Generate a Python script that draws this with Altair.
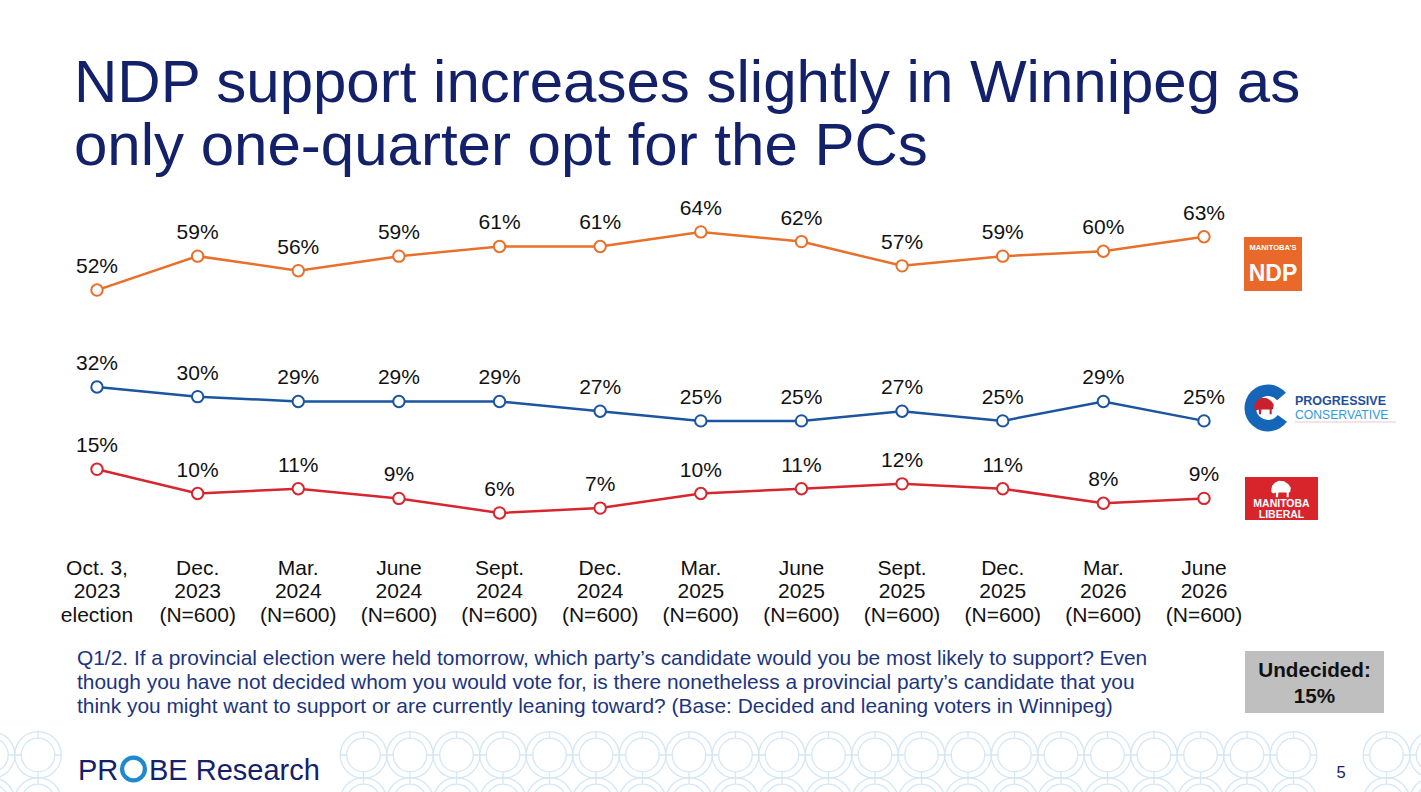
import altair as alt
import pandas as pd

# ---------------- data ----------------
periods = [
    "Oct. 3,\n2023\nelection", "Dec.\n2023\n(N=600)", "Mar.\n2024\n(N=600)",
    "June\n2024\n(N=600)", "Sept.\n2024\n(N=600)", "Dec.\n2024\n(N=600)",
    "Mar.\n2025\n(N=600)", "June\n2025\n(N=600)", "Sept.\n2025\n(N=600)",
    "Dec.\n2025\n(N=600)", "Mar.\n2026\n(N=600)", "June\n2026\n(N=600)",
]
ndp = [52, 59, 56, 59, 61, 61, 64, 62, 57, 59, 60, 63]
pc = [32, 30, 29, 29, 29, 27, 25, 25, 27, 25, 29, 25]
liberal = [15, 10, 11, 9, 6, 7, 10, 11, 12, 11, 8, 9]
parties = ["NDP", "PC", "Liberal"]
party_colors = ["#E8702A", "#1B55A0", "#D7262D"]
undecided = 15

title_lines = ["NDP support increases slightly in Winnipeg as",
               "only one-quarter opt for the PCs"]
note_lines = [
    "Q1/2. If a provincial election were held tomorrow, which party\u2019s candidate would you be most likely to support? Even",
    "though you have not decided whom you would vote for, is there nonetheless a provincial party\u2019s candidate that you",
    "think you might want to support or are currently leaning toward? (Base: Decided and leaning voters in Winnipeg)",
]

FONT = "Liberation Sans, Arial, Helvetica, sans-serif"
NAVY = "#13216A"
NOTE = "#1C3480"
DECO = "#D3E7F6"

rows = []
for party, vals in zip(parties, [ndp, pc, liberal]):
    for i, v in enumerate(vals):
        rows.append({"idx": i, "party": party, "value": v, "label": f"{v}%"})
df = pd.DataFrame(rows)
dper = pd.DataFrame({"idx": list(range(len(periods))), "period": periods})
one = pd.DataFrame({"a": [0]})

xs = alt.Scale(domain=[0, 11], range=[97, 1204], nice=False, zero=False)
ys = alt.Scale(domain=[0, 100], range=[542, 57.5], nice=False, zero=False)
X = alt.X("idx:Q", scale=xs, axis=None)
Y = alt.Y("value:Q", scale=ys, axis=None)
cscale = alt.Scale(domain=parties, range=party_colors)

lines = alt.Chart(df).mark_line(strokeWidth=2.5).encode(
    x=X, y=Y, color=alt.Color("party:N", scale=cscale, legend=None), detail="party:N")
points = alt.Chart(df).mark_point(shape="circle", filled=True, fill="white", size=130,
                                  strokeWidth=2, opacity=1).encode(
    x=X, y=Y, stroke=alt.Stroke("party:N", scale=cscale, legend=None))
vlabels = alt.Chart(df).mark_text(fontSize=21, font=FONT, dy=-23, baseline="middle",
                                  color="#111111").encode(x=X, y=Y, text="label:N")
xlabels = alt.Chart(dper).mark_text(fontSize=21, font=FONT, baseline="middle", lineBreak="\n",
                                    lineHeight=23.5, color="#111111").encode(
    x=X, y=alt.value(568.5), text="period:N")


def txt(s, x, y, size, color, align="left", weight="normal", baseline="alphabetic", font=FONT):
    return alt.Chart(one).mark_text(text=s, fontSize=size, font=font, color=color, align=align,
                                    fontWeight=weight, baseline=baseline).encode(
        x=alt.value(x), y=alt.value(y))


def rect(x1, x2, y1, y2, color):
    return alt.Chart(one).mark_rect(color=color).encode(
        x=alt.value(x1), x2=alt.value(x2), y=alt.value(y1), y2=alt.value(y2))


# ---- decoration circles (bottom) ----
ring_path = ("M-1,0A1,1 0 1,1 1,0A1,1 0 1,1 -1,0Z "
             "M-0.72,0A0.72,0.72 0 1,1 0.72,0A0.72,0.72 0 1,1 -0.72,0Z "
             "M0,-1L0,-0.72M0,0.72L0,1M-1,0L-0.72,0M0.72,0L1,0")
deco = []
for k in range(-1, 31):
    if 1 <= k <= 6 or k == 28:
        continue
    for cy in (755, 801):
        deco.append({"cx": 38 + 46.5 * k, "cy": cy})
ddeco = pd.DataFrame(deco)
decor = alt.Chart(ddeco).mark_point(shape=ring_path, filled=False, size=2172, strokeWidth=1.3,
                                    color=DECO, opacity=1).encode(
    x=alt.X("cx:Q", scale=alt.Scale(domain=[0, 1421], range=[0, 1421], nice=False, zero=False), axis=None),
    y=alt.Y("cy:Q", scale=alt.Scale(domain=[0, 792], range=[0, 792], nice=False, zero=False), axis=None))

bison_path = ("M-0.95,0.05L-0.85,-0.35L-0.6,-0.6L-0.2,-0.8L0.3,-0.75L0.7,-0.5L0.95,-0.15L0.9,0.3"
              "L0.75,0.35L0.75,0.8L0.55,0.8L0.55,0.35L-0.25,0.35L-0.3,0.8L-0.5,0.8L-0.5,0.35"
              "L-0.75,0.45L-0.95,0.3Z")

layers = [
    decor,
    # title
    txt(title_lines[0], 74, 102, 60, NAVY),
    txt(title_lines[1], 74, 165, 60, NAVY),
    # chart
    lines, points, vlabels, xlabels,
    # NDP logo
    rect(1244, 1302, 237, 291, "#E8692A"),
    txt("MANITOBA\u2019S", 1273, 250, 7.5, "white", align="center", weight="bold"),
    txt("NDP", 1273, 281, 23, "white", align="center", weight="bold"),
    # PC logo
    alt.Chart(one).mark_arc(radius=23.5, radius2=12, theta=2.2, theta2=7.15, color="#1565B8").encode(
        x=alt.value(1268), y=alt.value(408)),
    alt.Chart(one).mark_point(shape=bison_path, filled=True, size=420, color="#C8202F", opacity=1).encode(
        x=alt.value(1264), y=alt.value(406)),
    txt("PROGRESSIVE", 1295, 405, 12.5, "#1D4F9C", weight="bold"),
    txt("CONSERVATIVE", 1295, 418.5, 12.2, "#2D9CDB"),
    alt.Chart(one).mark_rule(color="#F2C5CE", strokeWidth=1).encode(
        x=alt.value(1295), x2=alt.value(1396), y=alt.value(422)),
    # Liberal logo
    rect(1245, 1318, 477, 520, "#D8242B"),
    alt.Chart(one).mark_point(shape=bison_path, filled=True, size=420, color="white", opacity=1).encode(
        x=alt.value(1281), y=alt.value(489)),
    txt("MANITOBA", 1281.5, 507, 10.5, "white", align="center", weight="bold"),
    txt("LIBERAL", 1281.5, 518, 10.5, "white", align="center", weight="bold"),
    # footnote
    txt(note_lines[0], 77, 665, 20.9, NOTE),
    txt(note_lines[1], 77, 689, 20.9, NOTE),
    txt(note_lines[2], 77, 713, 20.9, NOTE),
    # undecided box
    rect(1245, 1384, 651, 713, "#BFBFBF"),
    txt("Undecided:", 1314.5, 677, 20.7, "#111111", align="center", weight="bold"),
    txt(f"{undecided}%", 1314.5, 703, 20.7, "#111111", align="center", weight="bold"),
    # PROBE Research logo
    txt("PR", 78, 780, 29, NAVY),
    alt.Chart(one).mark_point(shape="circle", filled=False, size=520, strokeWidth=4.2,
                              color="#1E88D0", opacity=1).encode(x=alt.value(133.5), y=alt.value(769)),
    txt("BE Research", 149, 780, 29, NAVY),
    # page number
    txt("5", 1341, 778, 16.5, NAVY, align="center"),
]

chart = alt.layer(*layers).resolve_scale(x="independent", y="independent").properties(
    width=1421, height=792, padding=0, autosize=alt.AutoSizeParams(type="none"),
    background="white",
).configure_view(stroke=None)

chart.save("out.html", embed_options={"renderer": "svg", "actions": False})
